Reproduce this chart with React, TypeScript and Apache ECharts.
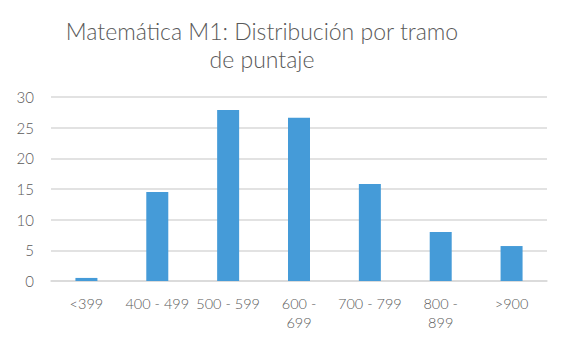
import React, { useEffect, useRef } from "react";
import * as echarts from "echarts";

const titleLines = ["Matemática M1: Distribución por tramo", "de puntaje"];
const categories = ["<399", "400 - 499", "500 - 599", "600 - 699", "700 - 799", "800 - 899", ">900"];
const wrappedLabels: Record<string, string> = { "600 - 699": "600 -\n699", "800 - 899": "800 -\n899" };
const values = [0.5, 14.5, 27.9, 26.6, 15.8, 8.0, 5.7];
const yTicks = { min: 0, max: 30, interval: 5 };

const FONT = "Lato";
const TEXT = "#595959";

export default function App() {
  const ref = useRef<HTMLDivElement>(null);
  useEffect(() => {
    document.body.style.margin = "0";
    const chart = echarts.init(ref.current!, undefined, { renderer: "svg" });
    chart.setOption({
      animation: false,
      title: {
        text: titleLines.join("\n"),
        left: 257,
        top: 12,
        textAlign: "center",
        textStyle: { fontFamily: FONT, fontSize: 23, fontWeight: 300, color: TEXT, lineHeight: 28 },
      },
      grid: { left: 51, right: 21, top: 97, bottom: 61, containLabel: false },
      xAxis: {
        type: "category",
        data: categories,
        axisLine: { lineStyle: { color: "#d9d9d9", width: 1.5 } },
        axisTick: { show: false },
        axisLabel: {
          interval: 0,
          margin: 13,
          color: TEXT,
          fontFamily: FONT,
          fontSize: 14.5,
          fontWeight: 300,
          lineHeight: 19,
          formatter: (v: string) => wrappedLabels[v] ?? v,
        },
      },
      yAxis: {
        type: "value",
        min: yTicks.min,
        max: yTicks.max,
        interval: yTicks.interval,
        axisLine: { show: false },
        axisTick: { show: false },
        splitLine: { lineStyle: { color: "#d9d9d9", width: 1.5 } },
        axisLabel: { margin: 17, color: TEXT, fontFamily: FONT, fontSize: 15, fontWeight: 300 },
      },
      series: [
        {
          type: "bar",
          data: values,
          barWidth: 22,
          itemStyle: { color: "#459bd8" },
        },
      ],
    });
    return () => chart.dispose();
  }, []);
  return <div ref={ref} style={{ width: 568, height: 342 }} />;
}
